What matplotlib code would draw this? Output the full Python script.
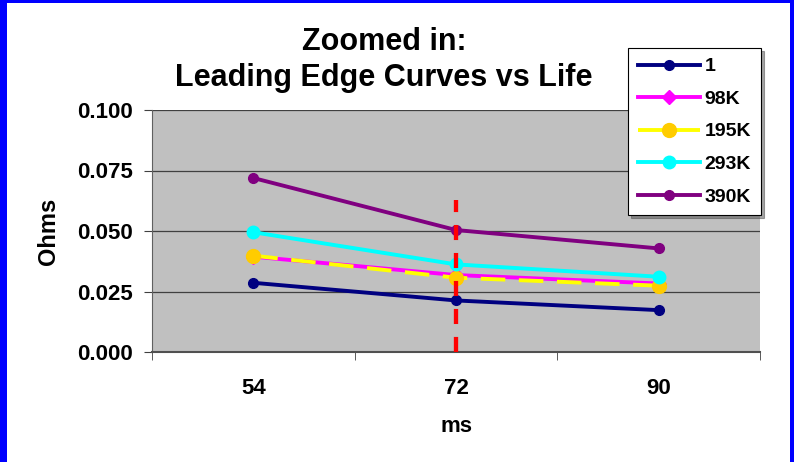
import numpy as np
import matplotlib
matplotlib.use('Agg')
import matplotlib.pyplot as plt
from matplotlib.patches import Rectangle

plt.rcParams['font.family'] = ['Liberation Sans', 'DejaVu Sans']
plt.rcParams['font.weight'] = 'bold'

categories = ['54', '72', '90']
series_names = ['1', '98K', '195K', '293K', '390K']
s_1 = [0.0286, 0.0213, 0.0173]
s_98k = [0.0394, 0.0318, 0.0283]
s_195k = [0.0398, 0.0307, 0.0274]
s_293k = [0.0495, 0.0362, 0.0311]
s_390k = [0.0719, 0.0504, 0.0428]
marker_line_top = 0.0629

fig = plt.figure(figsize=(7.94, 4.62), dpi=100, facecolor='#0000FF')
# white inner panel inside the blue border
fig.patches.append(Rectangle((7 / 794, 0), 783 / 794, 459 / 462, transform=fig.transFigure,
                             facecolor='white', edgecolor='none', zorder=-10))

ax = fig.add_axes([152 / 794, 110 / 462, 608 / 794, 242 / 462])
ax.set_facecolor('#C0C0C0')
x = np.arange(len(categories))

lw = 2.8
ax.plot(x, s_1, color='#000080', lw=lw, marker='o', ms=7, label=series_names[0])
ax.plot(x, s_98k, color='#FF00FF', lw=lw, marker='D', ms=7, label=series_names[1])
ax.plot(x, s_195k, color='#FFFF00', lw=lw, ls=(0, (6.3, 3.5)), marker='o', ms=10,
        mfc='#FFCC00', mec='#FFCC00', label=series_names[2])
ax.plot(x, s_293k, color='#00FFFF', lw=lw, marker='o', ms=9, label=series_names[3])
ax.plot(x, s_390k, color='#800080', lw=lw, marker='o', ms=7, label=series_names[4])

# red dashed marker at 72 ms
ax.vlines(1, 0, marker_line_top, colors='#FF0000', lw=3.1, linestyles=(0, (3.5, 3)), zorder=5)

ax.set_xlim(-0.5, 2.5)
ax.set_ylim(0, 0.1)
ax.set_yticks([0, 0.025, 0.05, 0.075, 0.1])
ax.set_yticklabels(['0.000', '0.025', '0.050', '0.075', '0.100'])
ax.set_xticks(x)
ax.set_xticklabels(categories)
ax.set_xticks([-0.5, 0.5, 1.5, 2.5], minor=True)
ax.tick_params(axis='x', which='major', length=0, pad=19, labelsize=16)
ax.tick_params(axis='x', which='minor', length=6, color='#404040', direction='out')
ax.tick_params(axis='y', length=6, color='#404040', labelsize=16, pad=8)
ax.grid(axis='y', color='#404040', lw=0.9)
ax.set_axisbelow(True)
for side in ['top', 'right']:
    ax.spines[side].set_visible(False)
ax.spines['left'].set_color('#606060')
ax.spines['bottom'].set_color('#505050')
ax.spines['bottom'].set_linewidth(1.5)

ax.set_ylabel('Ohms', fontsize=17, fontweight='bold', labelpad=12)
ax.set_xlabel('ms', fontsize=16, fontweight='bold', labelpad=12)

fig.text(384 / 794, 1 - 42 / 462, 'Zoomed in:', ha='center', va='center', fontsize=22, fontweight='bold')
fig.text(384 / 794, 1 - 78 / 462, 'Leading Edge Curves vs Life', ha='center', va='center',
         fontsize=22, fontweight='bold')

leg = fig.legend(loc='upper left', bbox_to_anchor=(628 / 794, 1 - 48 / 462), fontsize=14,
                 frameon=True, fancybox=False, shadow=True, handlelength=3.2,
                 borderpad=0.5, labelspacing=0.77, handletextpad=0.25, borderaxespad=0)
leg.get_frame().set_edgecolor('black')
leg.get_frame().set_linewidth(0.8)

fig.savefig('out.png', dpi=100, facecolor=fig.get_facecolor())
